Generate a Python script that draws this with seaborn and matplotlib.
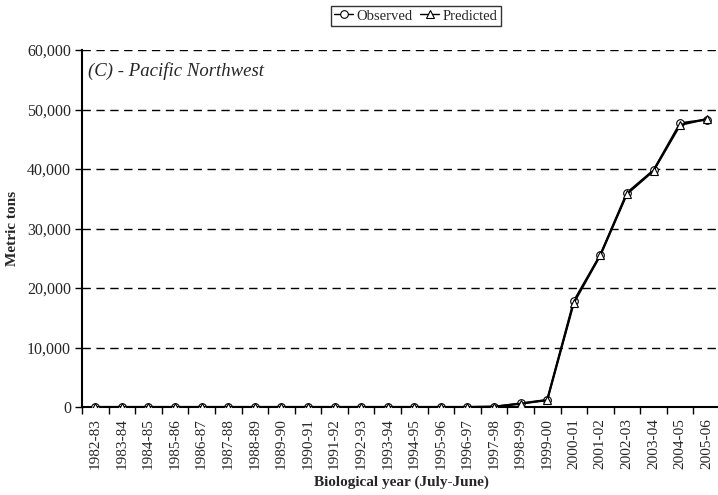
import matplotlib
matplotlib.use("Agg")
import matplotlib.pyplot as plt
import seaborn as sns
import pandas as pd
import numpy as np
from matplotlib.ticker import FuncFormatter

years = ["1982-83", "1983-84", "1984-85", "1985-86", "1986-87", "1987-88", "1988-89",
         "1989-90", "1990-91", "1991-92", "1992-93", "1993-94", "1994-95", "1995-96",
         "1996-97", "1997-98", "1998-99", "1999-00", "2000-01", "2001-02", "2002-03",
         "2003-04", "2004-05", "2005-06"]
observed = [0, 0, 0, 0, 0, 0, 0, 0, 0, 0, 0, 0, 0, 0, 0, 50, 600, 1200,
            17800, 25600, 36000, 39800, 47700, 48300]
predicted = [0, 0, 0, 0, 0, 0, 0, 0, 0, 0, 0, 0, 0, 0, 0, 50, 550, 1150,
             17500, 25500, 35800, 39700, 47400, 48400]
y_ticks = [0, 10000, 20000, 30000, 40000, 50000, 60000]

sns.set_theme(style="white")
plt.rcParams["font.family"] = ["Liberation Serif", "DejaVu Serif"]

fig = plt.figure(figsize=(7.18, 4.95), dpi=100)
W, H = 718, 495
ax = fig.add_axes([82 / W, 1 - 407 / H, 638 / W, (407 - 50) / H])

pos = np.arange(len(years))
df = pd.DataFrame({"pos": pos, "Observed": observed, "Predicted": predicted})

sns.lineplot(data=df, x="pos", y="Observed", ax=ax, color="black", lw=1.5,
             marker="o", markersize=5.5, markerfacecolor="white",
             markeredgecolor="black", markeredgewidth=0.8, label="Observed", zorder=3)
sns.lineplot(data=df, x="pos", y="Predicted", ax=ax, color="black", lw=1.5,
             marker="^", markersize=5.5, markerfacecolor="white",
             markeredgecolor="black", markeredgewidth=0.8, label="Predicted", zorder=4)

ax.set_xlim(-0.5, len(years) - 0.5)
ax.set_ylim(0, 60000)
ax.set_yticks(y_ticks)
ax.yaxis.set_major_formatter(FuncFormatter(lambda v, p: f"{int(v):,}"))
ax.tick_params(axis="y", which="major", direction="out", length=5, width=1,
               color="black", labelsize=11.5, left=True, pad=3)

ax.set_xticks(pos)
ax.set_xticklabels(years, rotation=90, fontsize=11)
ax.set_xticks(np.arange(len(years) + 1) - 0.5, minor=True)
ax.tick_params(axis="x", which="major", length=0, pad=8)
ax.tick_params(axis="x", which="minor", direction="out", length=5, width=1,
               color="black", bottom=True)

for yv in y_ticks[1:]:
    ax.axhline(yv, color="black", lw=1, ls=(0, (6, 4)), zorder=1)

for s in ["top", "right"]:
    ax.spines[s].set_visible(False)
for s in ["left", "bottom"]:
    ax.spines[s].set_color("black")
    ax.spines[s].set_linewidth(1.5)

ax.set_xlabel("Biological year (July-June)", fontsize=11, fontweight="bold", labelpad=5)
ax.set_ylabel("Metric tons", fontsize=11, fontweight="bold", labelpad=6)

ax.text(0.01, 0.94, "(C) - Pacific Northwest", transform=ax.transAxes,
        fontsize=13.5, fontstyle="italic", ha="left", va="center")

leg = ax.legend(loc="center", bbox_to_anchor=(416 / W, 1 - 16 / H),
                bbox_transform=fig.transFigure, ncol=2, frameon=True, fontsize=10.5,
                handlelength=1.3, handletextpad=0.25, columnspacing=0.5,
                borderpad=0.2, fancybox=False)
leg.get_frame().set_edgecolor("black")
leg.get_frame().set_linewidth(1)
for h in leg.legend_handles:
    h.set_linewidth(1)
    h.set_markersize(5.5)

fig.savefig("out.png", dpi=100)
